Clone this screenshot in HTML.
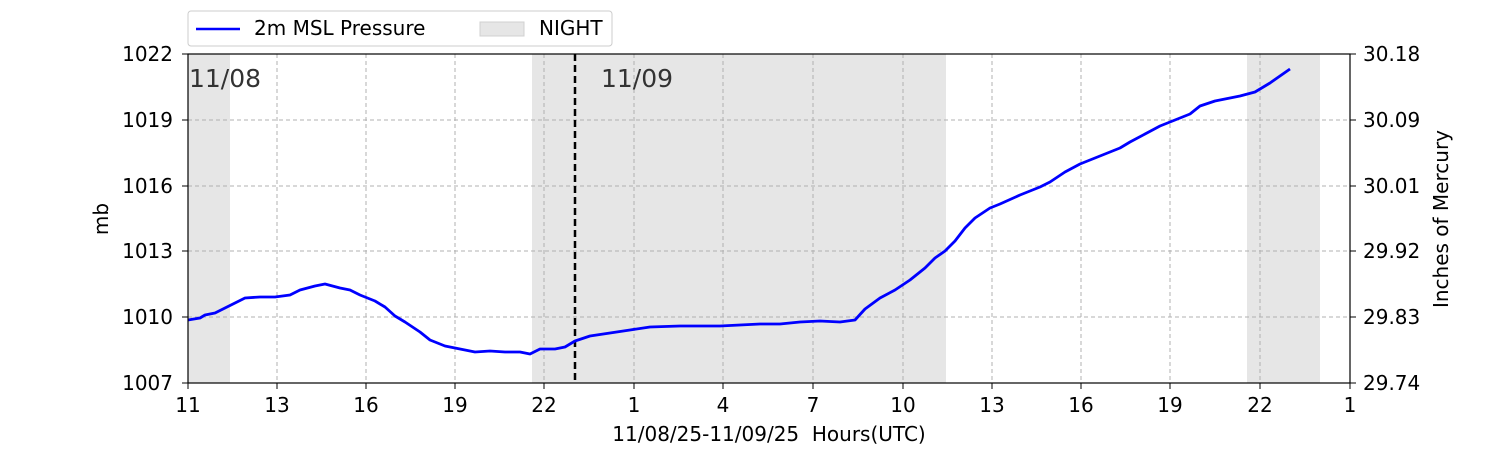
<!DOCTYPE html>
<html><head><meta charset="utf-8"><style>
body{margin:0;background:#fff;}
text{font-family:"DejaVu Sans","Liberation Sans",sans-serif;fill:#000;}
</style></head><body>
<svg width="1500" height="450" xmlns="http://www.w3.org/2000/svg">
<rect width="1500" height="450" fill="#fff"/>
<rect x="188" y="54" width="42" height="329" fill="#e6e6e6"/>
<rect x="532" y="54" width="414" height="329" fill="#e6e6e6"/>
<rect x="1247" y="54" width="73" height="329" fill="#e6e6e6"/>
<g stroke="#b0b0b0" stroke-width="1" stroke-dasharray="4,3">
<line x1="277" y1="54" x2="277" y2="383"/><line x1="366" y1="54" x2="366" y2="383"/>
<line x1="455" y1="54" x2="455" y2="383"/><line x1="544" y1="54" x2="544" y2="383"/>
<line x1="634" y1="54" x2="634" y2="383"/><line x1="723" y1="54" x2="723" y2="383"/>
<line x1="813" y1="54" x2="813" y2="383"/><line x1="903" y1="54" x2="903" y2="383"/>
<line x1="992" y1="54" x2="992" y2="383"/><line x1="1081" y1="54" x2="1081" y2="383"/>
<line x1="1170" y1="54" x2="1170" y2="383"/><line x1="1260" y1="54" x2="1260" y2="383"/>
<line x1="188" y1="120" x2="1350" y2="120"/><line x1="188" y1="186" x2="1350" y2="186"/>
<line x1="188" y1="251" x2="1350" y2="251"/><line x1="188" y1="317" x2="1350" y2="317"/>
</g>
<line x1="575" y1="54" x2="575" y2="383" stroke="#000" stroke-width="2.5" stroke-dasharray="7,4"/>
<text x="189" y="87" font-size="25" style="fill:#333">11/08</text>
<text x="601" y="87" font-size="25" style="fill:#333">11/09</text>
<polyline fill="none" stroke="#0000ff" stroke-width="2.8" stroke-linejoin="round" points="188,320 200,318 205,315 215,313 225,308 235,303 245,298 260,297 275,297 290,295 300,290 315,286 325,284 340,288 350,290 360,295 375,301 385,307 395,316 405,322 420,332 430,340 445,346 460,349 475,352 490,351 505,352 520,352 530,354 540,349 555,349 565,347 575,341 590,336 610,333 630,330 650,327 680,326 700,326 720,326 740,325 760,324 780,324 800,322 820,321 840,322 855,320 865,309 880,298 895,290 910,280 925,268 935,258 945,251 955,241 965,228 975,218 990,208 1000,204 1020,195 1040,187 1050,182 1065,172 1080,164 1095,158 1110,152 1120,148 1130,142 1145,134 1160,126 1175,120 1190,114 1200,106 1215,101 1240,96 1255,92 1270,83 1290,69"/>
<rect x="188" y="54" width="1162" height="329" fill="none" stroke="#000" stroke-width="1.2"/>
<g stroke="#000" stroke-width="1">
<line x1="188" y1="383" x2="188" y2="389"/><line x1="277" y1="383" x2="277" y2="389"/><line x1="366" y1="383" x2="366" y2="389"/><line x1="455" y1="383" x2="455" y2="389"/><line x1="544" y1="383" x2="544" y2="389"/><line x1="634" y1="383" x2="634" y2="389"/><line x1="723" y1="383" x2="723" y2="389"/><line x1="813" y1="383" x2="813" y2="389"/><line x1="903" y1="383" x2="903" y2="389"/><line x1="992" y1="383" x2="992" y2="389"/><line x1="1081" y1="383" x2="1081" y2="389"/><line x1="1170" y1="383" x2="1170" y2="389"/><line x1="1260" y1="383" x2="1260" y2="389"/><line x1="1350" y1="383" x2="1350" y2="389"/>
<line x1="182" y1="54" x2="188" y2="54"/><line x1="182" y1="120" x2="188" y2="120"/><line x1="182" y1="186" x2="188" y2="186"/><line x1="182" y1="251" x2="188" y2="251"/><line x1="182" y1="317" x2="188" y2="317"/><line x1="182" y1="383" x2="188" y2="383"/>
<line x1="1350" y1="54" x2="1356" y2="54"/><line x1="1350" y1="120" x2="1356" y2="120"/><line x1="1350" y1="186" x2="1356" y2="186"/><line x1="1350" y1="251" x2="1356" y2="251"/><line x1="1350" y1="317" x2="1356" y2="317"/><line x1="1350" y1="383" x2="1356" y2="383"/>
</g>
<g font-size="20" text-anchor="middle">
<text x="188" y="412">11</text><text x="277" y="412">13</text><text x="366" y="412">16</text><text x="455" y="412">19</text><text x="544" y="412">22</text><text x="634" y="412">1</text><text x="723" y="412">4</text><text x="813" y="412">7</text><text x="903" y="412">10</text><text x="992" y="412">13</text><text x="1081" y="412">16</text><text x="1170" y="412">19</text><text x="1260" y="412">22</text><text x="1350" y="412">1</text>
<text x="769" y="441" xml:space="preserve" style="white-space:pre">11/08/25-11/09/25  Hours(UTC)</text>
</g>
<g font-size="20" text-anchor="end">
<text x="173" y="61">1022</text><text x="173" y="127">1019</text><text x="173" y="193">1016</text><text x="173" y="258">1013</text><text x="173" y="324">1010</text><text x="173" y="390">1007</text>
</g>
<g font-size="20">
<text x="1363" y="61">30.18</text><text x="1363" y="127">30.09</text><text x="1363" y="193">30.01</text><text x="1363" y="258">29.92</text><text x="1363" y="324">29.83</text><text x="1363" y="390">29.74</text>
</g>
<text x="108" y="219" font-size="20" text-anchor="middle" transform="rotate(-90 108 219)">mb</text>
<text x="1448" y="219" font-size="20" text-anchor="middle" transform="rotate(-90 1448 219)">Inches of Mercury</text>
<rect x="188" y="11" width="424" height="35" rx="3" fill="#fff" stroke="#ccc"/>
<line x1="196" y1="29" x2="240" y2="29" stroke="#0000ff" stroke-width="2.5"/>
<text x="254" y="35" font-size="20">2m MSL Pressure</text>
<rect x="480" y="22" width="44" height="14" fill="#e6e6e6" stroke="#d0d0d0"/>
<text x="539" y="35" font-size="20">NIGHT</text>
</svg>
</body></html>
